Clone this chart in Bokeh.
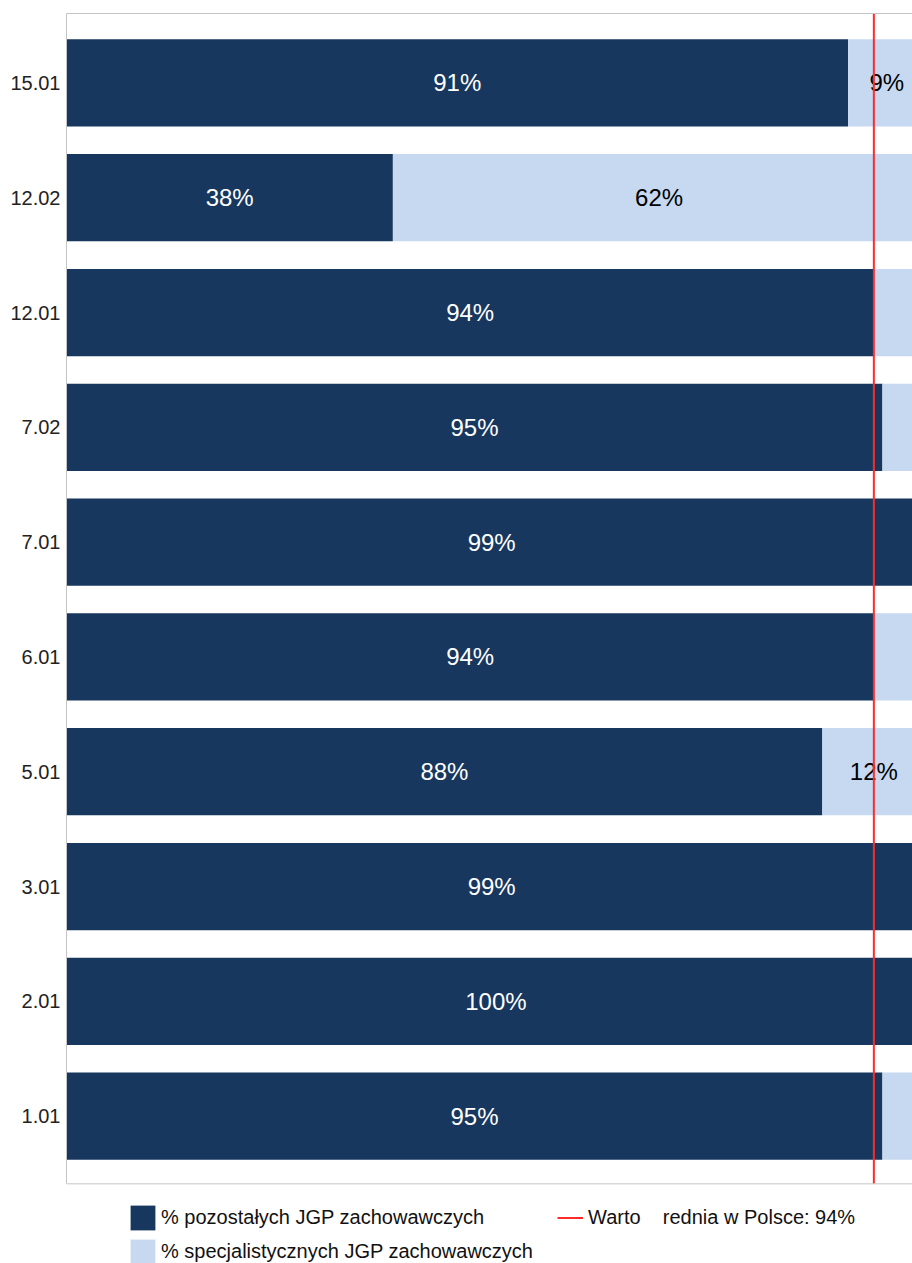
from bokeh.plotting import figure
from bokeh.models import Range1d, Span, Legend, LegendItem, LinearAxis, ColumnDataSource, FixedTicker
from bokeh.core.properties import value
from bokeh.embed import file_html
from bokeh.resources import INLINE

# Data (bottom to top)
categories = ["1.01", "2.01", "3.01", "5.01", "6.01", "7.01", "7.02", "12.01", "12.02", "15.01"]
pozostale = [95, 100, 99, 88, 94, 99, 95, 94, 38, 91]
specjalistyczne = [5, 0, 1, 12, 6, 1, 5, 6, 62, 9]
average = 94

series_names = ["% pozostałych JGP zachowawczych", "% specjalistycznych JGP zachowawczych"]
avg_label = "Warto\u00a0\u00a0\u00a0\u00a0rednia w Polsce: 94%"

DARK = "#17375E"
LIGHT = "#C6D9F1"
RED = "#FF2B2B"
GRID = "#C4C4C4"
FONT = "Liberation Sans"

# layout of the category axis (plot area bounds in category units)
Y_TOP = 9.605
Y_AXIS_BOTTOM = -0.59
Y_VIEW_BOTTOM = -1.284   # extra room under the plot area for the legend

ypos = list(range(len(categories)))

p = figure(width=912, height=1263, output_backend="svg", toolbar_location=None,
           y_range=Range1d(Y_VIEW_BOTTOM, Y_TOP),
           x_range=Range1d(0, 98.5),
           min_border_left=66, min_border_right=0, min_border_top=13, min_border_bottom=0)
p.outline_line_color = None
p.grid.visible = False

src = ColumnDataSource(dict(
    y=ypos,
    a_end=pozostale,
    b_end=[x + y for x, y in zip(pozostale, specjalistyczne)],
    a_mid=[x / 2 for x in pozostale],
    a_lab=[f"{x}%" for x in pozostale],
))

r1 = p.hbar(y="y", left=0, right="a_end", height=0.76, color=DARK, line_color=None, source=src)
r2 = p.hbar(y="y", left="a_end", right="b_end", height=0.76, color=LIGHT, line_color=None, source=src)

p.text(x="a_mid", y="y", text="a_lab", source=src, text_color="white",
       text_font=value(FONT), text_font_size="24px", text_align="center", text_baseline="middle")

# light labels only where the segment is wide enough
lb = [(i, x + y / 2, f"{y}%") for i, x, y in zip(ypos, pozostale, specjalistyczne) if y >= 9]
src2 = ColumnDataSource(dict(y=[t[0] for t in lb], x=[t[1] for t in lb], lab=[t[2] for t in lb]))
p.text(x="x", y="y", text="lab", source=src2, text_color="black",
       text_font=value(FONT), text_font_size="24px", text_align="center", text_baseline="middle")

# average line
r3 = p.segment(x0=[average], y0=[Y_AXIS_BOTTOM], x1=[average], y1=[Y_TOP],
               line_color=RED, line_width=2)

# bottom border of plot area
p.add_layout(Span(location=Y_AXIS_BOTTOM, dimension="width", line_color=GRID, line_width=1))

# axes
p.xaxis.visible = False
top = LinearAxis(ticker=FixedTicker(ticks=[]), major_tick_line_color=None, major_tick_out=0,
                 major_tick_in=0, minor_tick_line_color=None, major_label_standoff=0,
                 axis_line_color=GRID)
p.add_layout(top, "above")

p.yaxis.ticker = FixedTicker(ticks=ypos)
p.yaxis.major_label_overrides = {i: c for i, c in zip(ypos, categories)}
p.yaxis.bounds = (Y_AXIS_BOTTOM, Y_TOP)
p.yaxis.axis_line_color = GRID
p.yaxis.major_tick_line_color = None
p.yaxis.minor_tick_line_color = None
p.yaxis.major_tick_out = 0
p.yaxis.major_tick_in = 0
p.yaxis.major_label_text_font = FONT
p.yaxis.major_label_text_font_size = "20px"
p.yaxis.major_label_text_color = "#222222"
p.yaxis.major_label_standoff = 6

leg1 = Legend(items=[LegendItem(label=series_names[0], renderers=[r1]),
                     LegendItem(label=series_names[1], renderers=[r2])],
              location=(61, -4), glyph_width=31, glyph_height=31, label_standoff=3,
              spacing=3, padding=0, margin=0, border_line_color=None, background_fill_alpha=0,
              label_text_font=FONT, label_text_font_size="20px", label_text_color="#111111")
leg2 = Legend(items=[LegendItem(label=avg_label, renderers=[r3])],
              location=(491, 30), glyph_width=26, glyph_height=31, label_standoff=5,
              spacing=3, padding=0, margin=0, border_line_color=None, background_fill_alpha=0,
              label_text_font=FONT, label_text_font_size="20px", label_text_color="#111111")
p.add_layout(leg1, "center")
p.add_layout(leg2, "center")

open("out.html", "w").write(file_html(p, INLINE))
